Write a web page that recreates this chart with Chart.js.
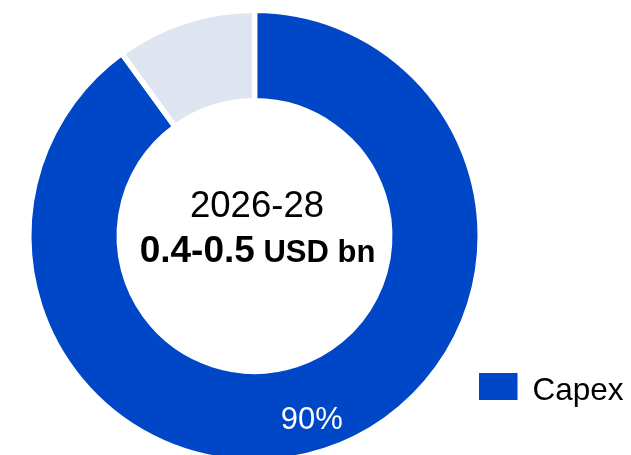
<!DOCTYPE html>
<html>
<head>
<meta charset="utf-8">
<title>Capex 2026-28</title>
<script src="https://cdn.jsdelivr.net/npm/chart.js@4/dist/chart.umd.min.js"></script>
<style>
  html, body { margin: 0; padding: 0; background: #ffffff; overflow: hidden; }
  #wrap { position: absolute; left: 0; top: 0; width: 631px; height: 475px; }
</style>
</head>
<body>
<div id="wrap"><canvas id="chart"></canvas></div>
<script>
// Spending split for the period
const categories = ['Capex', 'Other'];
const shares = [90, 10];
const sliceColors = ['#0047c8', '#dfe5f0'];
const valueLabels = ['90%', ''];
const legendItems = ['Capex'];
const periodLabel = '2026-28';
const amountLabel = '0.4-0.5';
const unitLabel = 'USD bn';

const FONT = '"Liberation Sans", Arial, Helvetica, sans-serif';

// Draws the centre caption, the share label on the ring and the legend
const annotations = {
  id: 'annotations',
  afterDraw(chart) {
    const ctx = chart.ctx;
    const meta = chart.getDatasetMeta(0);
    const first = meta.data[0];
    const cx = first.x, cy = first.y;

    ctx.save();
    ctx.textBaseline = 'alphabetic';

    // centre caption
    ctx.fillStyle = '#000000';
    ctx.textAlign = 'center';
    ctx.font = '36.5px ' + FONT;
    ctx.fillText(periodLabel, cx + 2.5, cy - 19);

    ctx.textAlign = 'left';
    const bigFont = 'bold 37px ' + FONT;
    const smallFont = 'bold 31px ' + FONT;
    ctx.font = bigFont;
    const w1 = ctx.measureText(amountLabel).width;
    ctx.font = smallFont;
    const wsp = ctx.measureText(' ').width;
    const w2 = ctx.measureText(unitLabel).width;
    const total = w1 + wsp + w2;
    const x0 = cx + 3 - total / 2;
    ctx.font = bigFont;
    ctx.fillText(amountLabel, x0, cy + 26);
    ctx.font = smallFont;
    ctx.fillText(unitLabel, x0 + w1 + wsp, cy + 26);

    // share labels inside the ring, slightly left of the slice bisector
    ctx.textAlign = 'center';
    ctx.textBaseline = 'middle';
    ctx.font = '31px ' + FONT;
    ctx.fillStyle = '#ffffff';
    meta.data.forEach((arc, i) => {
      if (!valueLabels[i]) return;
      const mid = (arc.startAngle + arc.endAngle) / 2;
      const rad = arc.innerRadius + (arc.outerRadius - arc.innerRadius) * 0.64;
      ctx.fillText(valueLabels[i], cx + Math.cos(mid) * rad - 2.5, cy + Math.sin(mid) * rad + 1);
    });

    // legend
    ctx.textAlign = 'left';
    ctx.textBaseline = 'alphabetic';
    legendItems.forEach((name) => {
      const idx = categories.indexOf(name);
      ctx.fillStyle = sliceColors[idx];
      ctx.fillRect(479, 373, 38.5, 27);
      ctx.fillStyle = '#000000';
      ctx.font = '31.5px ' + FONT;
      ctx.fillText(name, 532.5, 400);
    });

    ctx.restore();
  }
};

new Chart(document.getElementById('chart'), {
  type: 'doughnut',
  data: {
    labels: categories,
    datasets: [{
      data: shares,
      backgroundColor: sliceColors,
      borderColor: '#ffffff',
      borderWidth: 5.5,
      hoverBorderWidth: 5.5,
      borderAlign: 'center'
    }]
  },
  options: {
    responsive: true,
    maintainAspectRatio: false,
    animation: false,
    cutout: '59.9%',
    layout: { padding: { left: 26, right: 148, top: 7.5, bottom: 10.5 } },
    plugins: {
      legend: { display: false },
      tooltip: { enabled: false }
    }
  },
  plugins: [annotations]
});
</script>
</body>
</html>
